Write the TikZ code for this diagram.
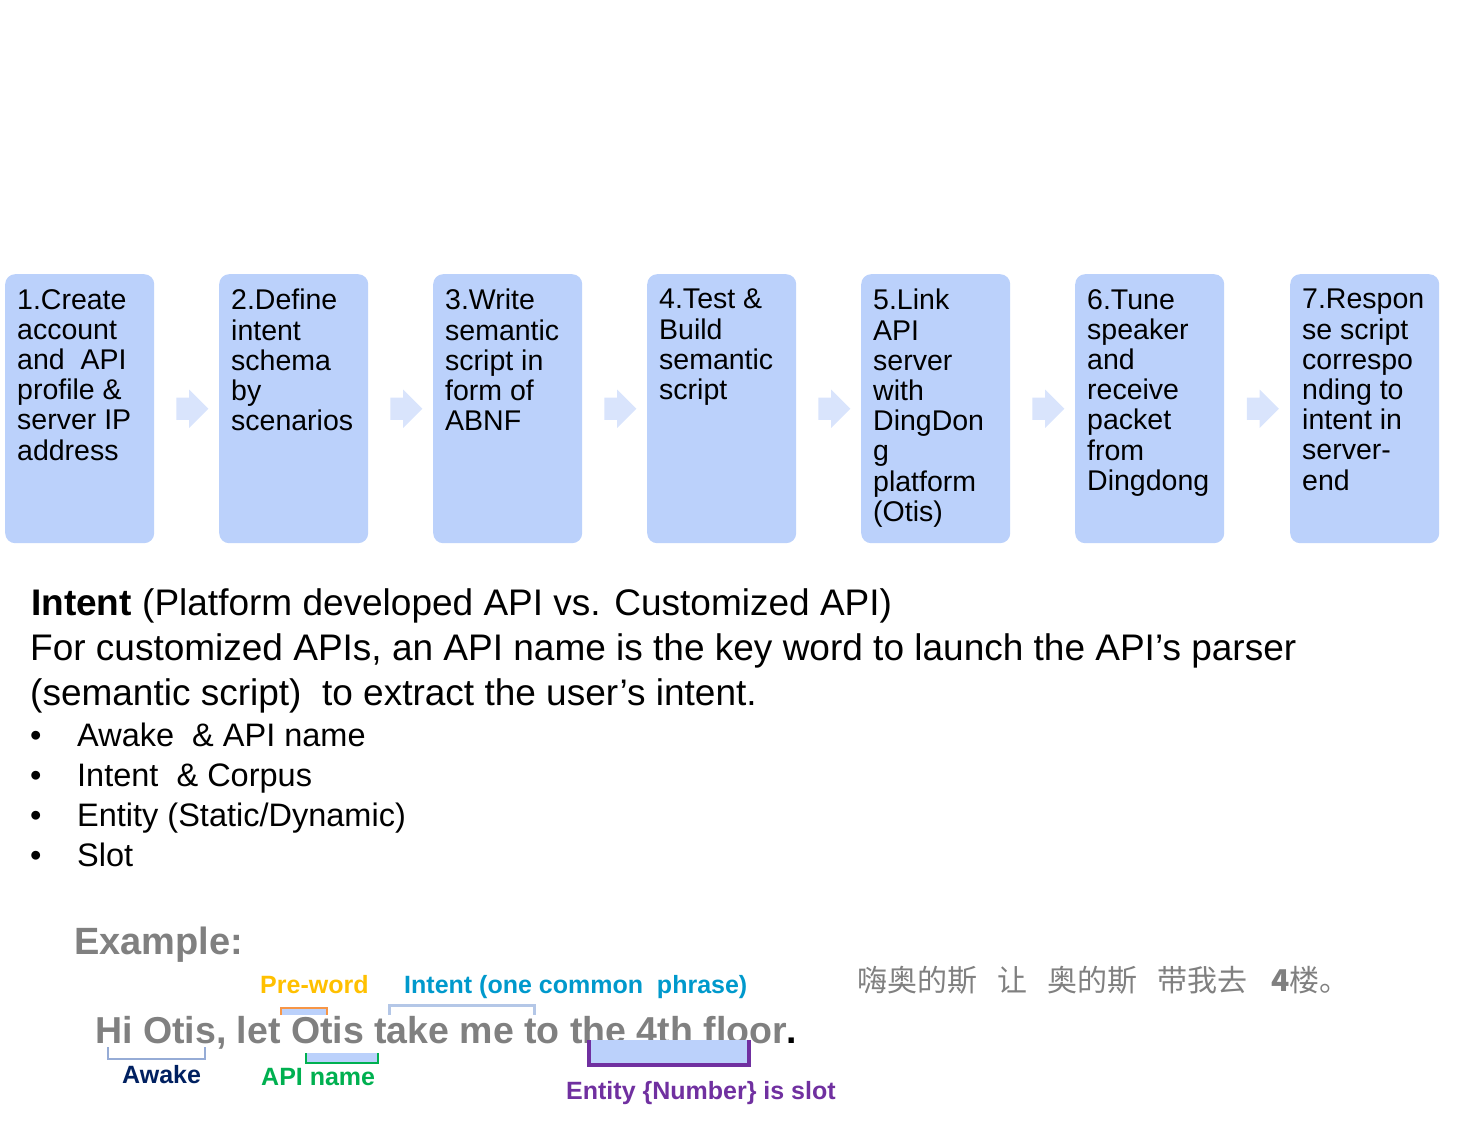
\documentclass[tikz,border=0pt]{standalone}
\usepackage{fontspec}
\setmainfont{Liberation Sans}
\newfontfamily\cjk{Noto Sans CJK SC}
\usetikzlibrary{calc,shapes.arrows}

\definecolor{stepblue}{RGB}{187,209,251}
\definecolor{arrowblue}{RGB}{217,228,252}
\definecolor{textgray}{RGB}{128,128,128}
\definecolor{prewordc}{RGB}{255,192,0}
\definecolor{prelinec}{RGB}{247,150,70}
\definecolor{intentc}{RGB}{0,153,204}
\definecolor{awakec}{RGB}{0,32,96}
\definecolor{apic}{RGB}{0,176,80}
\definecolor{slotc}{RGB}{112,48,160}
\definecolor{bracketc}{RGB}{180,199,231}
\definecolor{awakeline}{RGB}{150,172,214}

\begin{document}
\begin{tikzpicture}[
        x=1pt, y=-1pt,
        stepbox/.style={
            anchor=north west,
            fill=stepblue,
            rounded corners=10pt,
            minimum width=149pt,
            minimum height=269pt,
            inner sep=0pt
        },
        steptext/.style={
            anchor=north west,
            xshift=12pt,
            yshift=-15pt,
            inner sep=0pt,
            align=left,
            font=\fontsize{28.5}{30.2}\selectfont
        },
        flow/.style={
            single arrow,
            fill=arrowblue,
            minimum height=32pt,
            inner xsep=0pt,
            inner ysep=11pt,
            single arrow head extend=8pt
        },
        line/.style={anchor=base west, inner sep=0pt, font=\fontsize{37}{45}\selectfont},
        item/.style={anchor=base west, inner sep=0pt, font=\fontsize{32.5}{40}\selectfont},
        tag/.style={anchor=base west, inner sep=0pt, font=\fontsize{25}{28}\selectfont\bfseries}
    ]
    \useasboundingbox (0,0) rectangle (1479,1123);

    % Steps
    \node[stepbox] (s1) at (5,274) {};
    \node[stepbox] (s2) at (219,274) {};
    \node[stepbox] (s3) at (433,274) {};
    \node[stepbox] (s4) at (647,274) {};
    \node[stepbox] (s5) at (861,274) {};
    \node[stepbox] (s6) at (1075,274) {};
    \node[stepbox] (s7) at (1290,274) {};

    \node[steptext] (t1) at (s1.north west) {1.Create\\account\\and\ \ API\\profile \&\\server IP\\address};
    \node[steptext] (t2) at (s2.north west) {2.Define\\intent\\schema\\by\\scenarios};
    \node[steptext] (t3) at (s3.north west) {3.Write\\semantic\\script in\\form of\\ABNF};
    \node[steptext] (t4) at (s4.north west) {4.Test \&\\Build\\semantic\\script};
    \node[steptext] (t5) at (s5.north west) {5.Link\\API\\server\\with\\DingDon\\g\\platform\\(Otis)};
    \node[steptext] (t6) at (s6.north west) {6.Tune\\speaker\\and\\receive\\packet\\from\\Dingdong};
    \node[steptext] (t7) at (s7.north west) {7.Respon\\se script\\correspo\\nding to\\intent in\\server-\\end};

    % Arrows between steps
    \node[flow] (a12) at ($(s1.east)!0.5!(s2.west)$) {};
    \node[flow] (a23) at ($(s2.east)!0.5!(s3.west)$) {};
    \node[flow] (a34) at ($(s3.east)!0.5!(s4.west)$) {};
    \node[flow] (a45) at ($(s4.east)!0.5!(s5.west)$) {};
    \node[flow] (a56) at ($(s5.east)!0.5!(s6.west)$) {};
    \node[flow] (a67) at ($(s6.east)!0.5!(s7.west)$) {};

    % Intent text
    \node[line] (h1) at (31,615) {\textbf{Intent} (Platform developed API vs. Customized API)};
    \node[line] (h2) at (30,660) {For customized APIs, an API name is the key word to launch the API’s parser};
    \node[line] (h3) at (30,705) {(semantic script)\ \ to extract the user’s intent.};

    \node[item] (b1) at (30,746) {•};
    \node[item] (b2) at (30,786) {•};
    \node[item] (b3) at (30,826) {•};
    \node[item] (b4) at (30,866) {•};
    \node[item] (i1) at (77,746) {Awake\ \ \& API name};
    \node[item] (i2) at (77,786) {Intent\ \ \& Corpus};
    \node[item] (i3) at (77,826) {Entity (Static/Dynamic)};
    \node[item] (i4) at (77,866) {Slot};

    % Example
    \node[anchor=base west, inner sep=0pt, text=textgray, font=\fontsize{38}{40}\selectfont\bfseries] (ex) at (74,954) {Example:};

    \node[anchor=base west, inner sep=0pt, font=\fontsize{37.5}{40}\selectfont\bfseries] (hi) at (95,1043)
        {\textcolor{textgray}{Hi Otis, let Otis take me to the 4th floor}.};

    \node[anchor=base west, inner sep=0pt, text=textgray, font=\fontsize{30}{34}\selectfont\cjk] (zh) at (857,991)
        {嗨奥的斯\hspace{20pt}让\hspace{20pt}奥的斯\hspace{20pt}带我去\hspace{24pt}\textbf{4}楼。};

    % Brackets
    \draw[awakeline, line width=2.5pt] (108,1047) -- (108,1059) -- (205,1059) -- (205,1047);
    \fill[stepblue] (281,1009) rectangle (327,1015);
    \draw[prelinec, line width=1.5pt] (281,1015) -- (281,1008) -- (327,1008) -- (327,1015);
    \fill[stepblue] (306,1053) rectangle (378,1063);
    \draw[apic, line width=1.5pt] (306,1053) -- (306,1063) -- (378,1063) -- (378,1053);
    \draw[bracketc, line width=3pt] (389,1015) -- (389,1005) -- (534,1005) -- (534,1015);
    \fill[stepblue] (589,1040) rectangle (749,1064);
    \draw[slotc, line width=4pt] (589,1040) -- (589,1065) -- (749,1065) -- (749,1040);

    % Tags
    \node[tag, text=prewordc] (pre) at (260,993) {Pre-word};
    \node[tag, text=intentc] (int) at (404,993) {Intent (one common\ \ phrase)};
    \node[tag, text=awakec] (awk) at (122,1083) {Awake};
    \node[tag, text=apic] (api) at (261,1085) {API name};
    \node[tag, text=slotc] (slot) at (566,1099) {Entity \{Number\} is slot};

    \end{tikzpicture}
\end{document}
